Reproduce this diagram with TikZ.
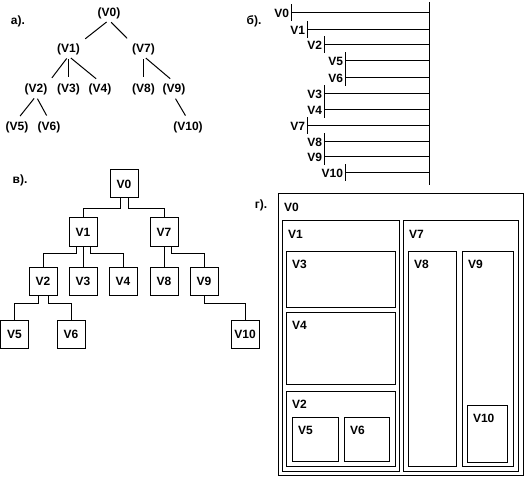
\documentclass[tikz,border=0pt]{standalone}
\usepackage{fontspec}
\setmainfont{Liberation Sans}

\begin{document}
\begin{tikzpicture}[x=1pt,y=-1pt,line width=1pt,
  font=\fontsize{12}{14}\selectfont\bfseries,
  tnode/.style={inner sep=1pt},
  edge/.style={shorten <=3pt, shorten >=5pt},
  lnode/.style={anchor=east,inner xsep=1.5pt,inner ysep=0pt,minimum height=16pt},
  box/.style={draw,rectangle,minimum width=28pt,minimum height=28pt,inner sep=0pt},
  lbl/.style={anchor=north west,inner xsep=5.5pt,inner ysep=9pt}]
\useasboundingbox (0,0) rectangle (530,481);
\node (la) at (18,21) {а).};
\node (lb) at (254,21) {б).};
\node (lc) at (20,180) {в).};
\node (ld) at (261,205) {г).};

\node[tnode] (a0) at (109,13) {(V0)};
\node[tnode] (a1) at (68.5,49) {(V1)};
\node[tnode] (a7) at (143.5,49) {(V7)};
\node[tnode] (a2) at (36,89) {(V2)};
\node[tnode] (a3) at (68.5,89) {(V3)};
\node[tnode] (a4) at (100,89) {(V4)};
\node[tnode] (a8) at (143.5,89) {(V8)};
\node[tnode] (a9) at (174,89) {(V9)};
\node[tnode] (a5) at (17,127) {(V5)};
\node[tnode] (a6) at (49,127) {(V6)};
\node[tnode] (a10) at (188,127) {(V10)};
\draw[edge] (a0.south) -- (a1.north east);
\draw[edge] (a0.south) -- (a7.north west);
\draw[edge] (a1.south) -- (a2.north east);
\draw[edge] (a1.south) -- (a3.north);
\draw[edge] (a1.south) -- (a4.north);
\draw[edge] (a7.south) -- (a8.north);
\draw[edge] (a7.south) -- (a9.north);
\draw[edge] (a2.south) -- (a5.north);
\draw[edge] (a2.south) -- (a6.north);
\draw[edge] (a9.south) -- (a10.north);

\coordinate (top) at (429,2);
\coordinate (bot) at (429,185);
\draw (top) -- (bot);
\node[lnode] (b0) at (291,13) {V0};
\node[lnode] (b1) at (307,30) {V1};
\node[lnode] (b2) at (324,45) {V2};
\node[lnode] (b5) at (345,61) {V5};
\node[lnode] (b6) at (345,78) {V6};
\node[lnode] (b3) at (324,94) {V3};
\node[lnode] (b4) at (324,110) {V4};
\node[lnode] (b7) at (307,126) {V7};
\node[lnode] (b8) at (324,142) {V8};
\node[lnode] (b9) at (324,157) {V9};
\node[lnode] (b10) at (345,173) {V10};
\foreach \n in {b0,b1,b2,b5,b6,b3,b4,b7,b8,b9,b10}
  \draw (\n.north east) -- (\n.south east) (\n.east) -- (\n.east -| top);

\node[box] (c0) at (124,184) {V0};
\node[box] (c1) at (83,232) {V1};
\node[box] (c7) at (164,232) {V7};
\node[box] (c2) at (43,281) {V2};
\node[box] (c3) at (83,281) {V3};
\node[box] (c4) at (123,281) {V4};
\node[box] (c8) at (164,281) {V8};
\node[box] (c9) at (204,281) {V9};
\node[box] (c5) at (14.5,334) {V5};
\node[box] (c6) at (71,334) {V6};
\node[box] (c10) at (245,334) {V10};
\draw ([xshift=-4pt]c0.south) -- ++(0,10) -| (c1.north);
\draw ([xshift=4pt]c0.south) -- ++(0,10) -| (c7.north);
\draw ([xshift=-7pt]c1.south) -- ++(0,7) -| (c2.north);
\draw (c1.south) -- (c3.north);
\draw ([xshift=7pt]c1.south) -- ++(0,7) -| (c4.north);
\draw (c7.south) -- (c8.north);
\draw ([xshift=7pt]c7.south) -- ++(0,7) -| (c9.north);
\draw ([xshift=-5pt]c2.south) -- ++(0,8) -| (c5.north);
\draw ([xshift=5pt]c2.south) -- ++(0,8) -| (c6.north);
\draw (c9.south) -- ++(0,8) -| (c10.north);

\draw (278,194) rectangle (523,475);
\node[lbl] (d0) at (278,194) {V0};
\draw (282,221) rectangle (399,471);
\node[lbl] (d1) at (282,221) {V1};
\draw (286,251) rectangle (395,307);
\node[lbl] (d3) at (286,251) {V3};
\draw (286,312) rectangle (395,384);
\node[lbl] (d4) at (286,312) {V4};
\draw (286,391) rectangle (395,466);
\node[lbl] (d2) at (286,391) {V2};
\draw (292,417) rectangle (338,461);
\node[lbl] (d5) at (292,417) {V5};
\draw (344,417) rectangle (389,461);
\node[lbl] (d6) at (344,417) {V6};
\draw (403,221) rectangle (518,471);
\node[lbl] (d7) at (403,221) {V7};
\draw (408,251) rectangle (456,466);
\node[lbl] (d8) at (408,251) {V8};
\draw (462,251) rectangle (513,466);
\node[lbl] (d9) at (462,251) {V9};
\draw (467,405) rectangle (507,462);
\node[lbl] (d10) at (467,405) {V10};
\end{tikzpicture}
\end{document}
